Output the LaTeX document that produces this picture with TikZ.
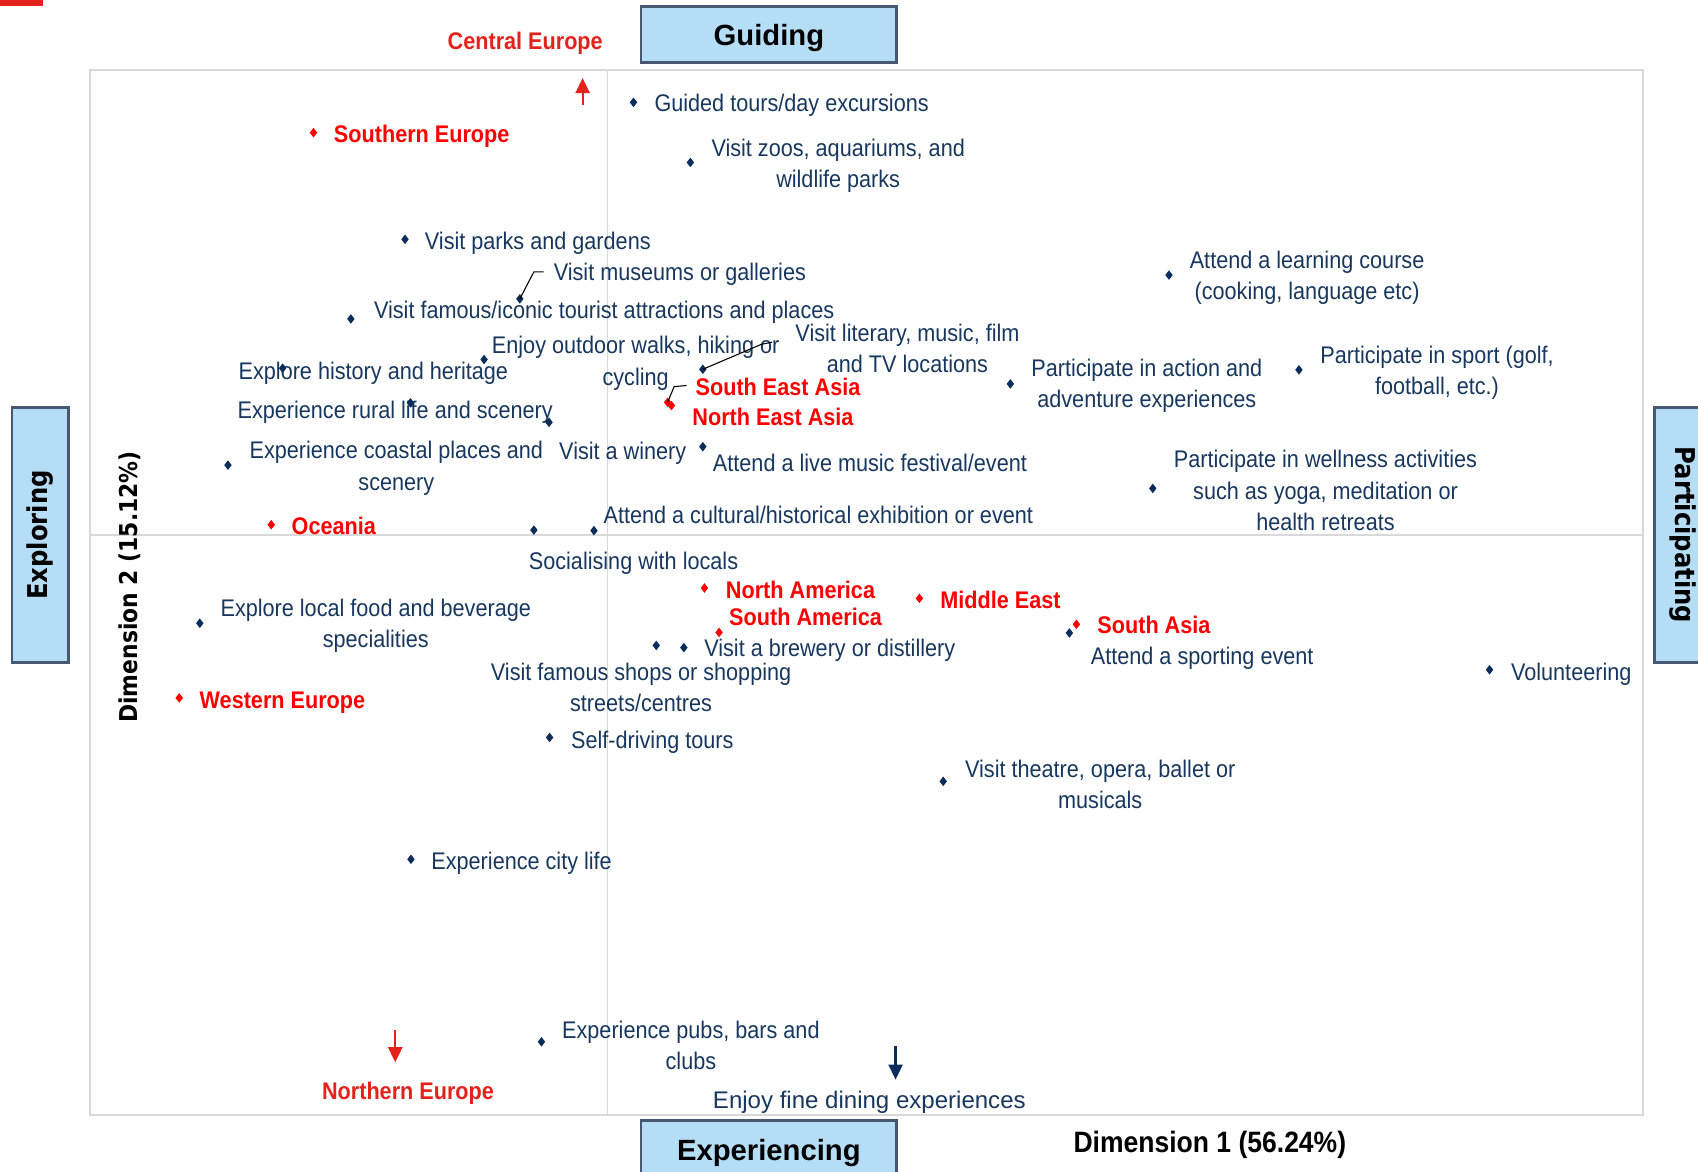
\documentclass[tikz,border=0pt]{standalone}
\usepackage{fontspec}
\setmainfont{Liberation Sans}[FakeStretch=0.9]
\newfontfamily\boxfont{Liberation Sans}
\newfontfamily\vfont{DejaVu Sans}[FakeStretch=0.89]
\usetikzlibrary{shapes.geometric,arrows.meta}
\definecolor{navyT}{HTML}{17375E}
\definecolor{navyM}{HTML}{0B2D5B}
\definecolor{redT}{HTML}{FF0000}
\definecolor{redD}{HTML}{E3231B}
\definecolor{boxblue}{HTML}{B6DDF6}
\definecolor{boxedge}{HTML}{475870}
\definecolor{gridgray}{HTML}{D9D9D9}
\tikzset{
  mk/.style={diamond, fill=navyM, draw=none, inner sep=0pt, minimum width=3.6pt, minimum height=4.6pt},
  rmk/.style={mk, fill=redT},
  lbl/.style={text=navyT, font=\fontsize{11.1}{14.4}\selectfont, inner sep=0pt, anchor=base west},
  mlbl/.style={lbl, align=center, anchor=center},
  rlbl/.style={text=redT, font=\fontsize{11.1}{14.4}\selectfont\bfseries, inner sep=0pt, anchor=base west},
  catbox/.style={fill=boxblue, draw=boxedge, line width=1.3pt, inner sep=0pt, text depth=0pt, font=\boxfont\bfseries\fontsize{13.5}{16}\selectfont},
  vbox/.style={fill=boxblue, draw=boxedge, line width=1.3pt, inner sep=0pt, font=\vfont\bfseries\fontsize{12.6}{15}\selectfont},
  leader/.style={draw=black, line width=0.5pt},
  arr/.style={-{Triangle[width=6.5pt,length=7pt]}, line width=1pt},
}
\begin{document}
\begin{tikzpicture}[x=0.5pt,y=-0.5pt]
\useasboundingbox (0,0) rectangle (1568,1082);
\clip (0,0) rectangle (1568,1082);
\fill[redD] (0,0) rectangle (40,6);
% frame and axes
\draw[gridgray, line width=1pt] (83,65) rectangle (1517,1030);
\draw[gridgray, line width=0.5pt] (561,65) -- (561,1030);
\draw[gridgray, line width=0.5pt] (83,494) -- (1517,494);
% category boxes
\node[catbox, minimum width=118pt, minimum height=26pt] (guiding) at (710,32) {Guiding};
\node[catbox, minimum width=118pt, minimum height=27pt] (experiencing) at (710,1062) {Experiencing};
\node[vbox, rotate=90, minimum width=118pt, minimum height=26pt] (exploring) at (37,494) {Exploring};
\node[vbox, rotate=-90, minimum width=118pt, minimum height=26pt] (participating) at (1554,494) {Participating};
% axis titles
\node[font=\vfont\bfseries\fontsize{11.35}{13}\selectfont, rotate=90, inner sep=0pt] (dim2) at (120,542) {Dimension 2 (15.12\%)};
\node[font=\bfseries\fontsize{13.6}{16}\selectfont, anchor=base west, inner sep=0pt] (dim1) at (991,1064) {Dimension 1 (56.24\%)};
% activity labels
\node[lbl] (t1) at (604,103) {Guided tours/day excursions};
\node[mlbl] (t2) at (774,153) {Visit zoos, aquariums, and\\wildlife parks};
\node[lbl] (t3) at (392,230) {Visit parks and gardens};
\node[lbl] (t4) at (511,259) {Visit museums or galleries};
\node[lbl] (t5) at (345,294) {Visit famous/iconic tourist attractions and places};
\node[mlbl] (t6) at (587,335.5) {Enjoy outdoor walks, hiking or\\cycling};
\node[mlbl] (t7) at (838,321.5) {Visit literary, music, film\\and TV locations};
\node[lbl] (t8) at (220,350) {Explore history and heritage};
\node[lbl] (t9) at (219,386) {Experience rural life and scenery};
\node[mlbl] (t10) at (366,432.5) {Experience coastal places and\\scenery};
\node[lbl] (t11) at (516,424) {Visit a winery};
\node[lbl] (t12) at (658,435) {Attend a live music festival/event};
\node[lbl] (t13) at (557,483) {Attend a cultural/historical exhibition or event};
\node[lbl] (t14) at (488,526) {Socialising with locals};
\node[mlbl] (t15) at (1207,256.5) {Attend a learning course\\(cooking, language etc)};
\node[mlbl] (t16) at (1059,356.5) {Participate in action and\\adventure experiences};
\node[mlbl] (t17) at (1327,344.5) {Participate in sport (golf,\\football, etc.)};
\node[mlbl] (t18) at (1224,453) {Participate in wellness activities\\such as yoga, meditation or\\health retreats};
\node[mlbl] (t19) at (347,578) {Explore local food and beverage\\specialities};
\node[lbl] (t20) at (650,606) {Visit a brewery or distillery};
\node[mlbl] (t21) at (592,635) {Visit famous shops or shopping\\streets/centres};
\node[lbl] (t22) at (1007,614) {Attend a sporting event};
\node[lbl] (t23) at (1395,628) {Volunteering};
\node[lbl] (t24) at (527,691) {Self-driving tours};
\node[mlbl] (t25) at (1016,724) {Visit theatre, opera, ballet or\\musicals};
\node[lbl] (t26) at (398,803) {Experience city life};
\node[mlbl] (t27) at (638,965) {Experience pubs, bars and\\clubs};
\node[lbl, font=\boxfont\fontsize{11.1}{14.4}\selectfont] (t28) at (658,1024) {Enjoy fine dining experiences};
% region labels
\node[rlbl, text=redD] (r1) at (413,46) {Central Europe};
\node[rlbl] (r2) at (308,132) {Southern Europe};
\node[rlbl] (r3) at (642,365) {South East Asia};
\node[rlbl] (r4) at (639,393) {North East Asia};
\node[rlbl] (r5) at (269,494) {Oceania};
\node[rlbl] (r6) at (670,553) {North America};
\node[rlbl] (r7) at (673,578) {South America};
\node[rlbl] (r8) at (868,562) {Middle East};
\node[rlbl] (r9) at (1013,585) {South Asia};
\node[rlbl] (r10) at (184,654) {Western Europe};
\node[rlbl, text=redD] (r11) at (297,1015) {Northern Europe};
% navy markers
\node[mk] (m1) at (585,94.5) {};
\node[mk] (m2) at (637.5,150) {};
\node[mk] (m3) at (374,221) {};
\node[mk] (m4) at (480,276) {};
\node[mk] (m5) at (324,294.5) {};
\node[mk] (m6) at (261,340) {};
\node[mk] (m7) at (447,332) {};
\node[mk] (m8) at (649,341) {};
\node[mk] (m9) at (379,372) {};
\node[mk] (m10) at (507,390) {};
\node[mk] (m11) at (210.5,429.5) {};
\node[mk] (m12) at (649,412.5) {};
\node[mk] (m13) at (493,489.5) {};
\node[mk] (m14) at (548.5,490) {};
\node[mk] (m15) at (1079.5,254) {};
\node[mk] (m16) at (933,354.5) {};
\node[mk] (m17) at (1199.5,341.5) {};
\node[mk] (m18) at (1064.5,451) {};
\node[mk] (m19) at (184.5,575.5) {};
\node[mk] (m20) at (606,596) {};
\node[mk] (m21) at (631.5,598) {};
\node[mk] (m22) at (987.5,584.5) {};
\node[mk] (m23) at (1375.5,618.5) {};
\node[mk] (m24) at (507.5,681) {};
\node[mk] (m25) at (871,721.5) {};
\node[mk] (m26) at (379.5,793.5) {};
\node[mk] (m27) at (500,962) {};
% red markers
\node[rmk] (rm2) at (289.5,122.5) {};
\node[rmk] (rm3) at (616.5,371.5) {};
\node[rmk] (rm4) at (620,374.5) {};
\node[rmk] (rm5) at (250.5,484.5) {};
\node[rmk] (rm6) at (650.5,543) {};
\node[rmk] (rm7) at (664,584) {};
\node[rmk] (rm8) at (849,552.5) {};
\node[rmk] (rm9) at (994,576.5) {};
\node[rmk] (rm10) at (165.5,644.5) {};
% leader lines
\coordinate (l4a) at (493,251);
\coordinate (l4b) at (502,251);
\draw[leader] (m4.center) -- (l4a) -- (l4b);
\coordinate (l8a) at (703,318);
\coordinate (l8b) at (713,316);
\draw[leader] (m8.center) -- (l8a) -- (l8b);
\coordinate (l3a) at (622.5,357);
\coordinate (l3b) at (634,356);
\draw[leader] (rm3.center) -- (l3a) -- (l3b);
% arrows
\coordinate (ceT) at (538,97);
\coordinate (ceH) at (538,72);
\draw[arr, redD] (ceT) -- (ceH);
\coordinate (neT) at (365,951);
\coordinate (neH) at (365,981);
\draw[arr, redD] (neT) -- (neH);
\coordinate (fdT) at (827,966);
\coordinate (fdH) at (827,997);
\draw[arr, navyM] (fdT) -- (fdH);
\end{tikzpicture}
\end{document}
